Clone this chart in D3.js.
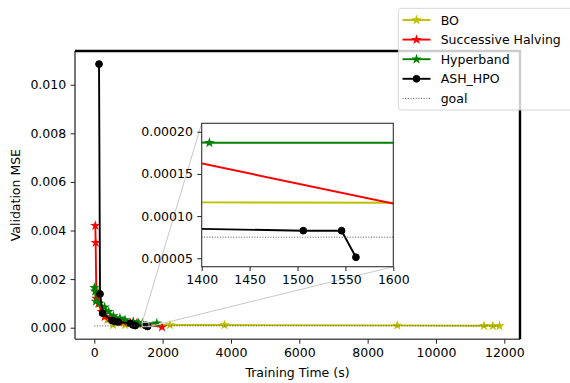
<!DOCTYPE html>
<html><head><meta charset="utf-8">
<script src="https://cdn.jsdelivr.net/npm/d3@7"></script>
<style>
html,body{margin:0;padding:0;background:#fff;}
svg{display:block;font-family:"DejaVu Sans",sans-serif;overflow:hidden;}
</style></head>
<body><svg id="c" width="570" height="383"></svg>
<script>
// ---- data ----
const seriesNames = ["BO", "Successive Halving", "Hyperband", "ASH_HPO"];
const boX  = [60, 110, 200, 380, 550, 900, 1300, 2215, 3810, 8867, 11405, 11665, 11860];
const boY  = [0.0016, 0.0013, 0.00085, 0.00032, 0.00012, 0.000118, 0.0001165, 0.0001145, 0.000110, 0.000095, 0.00008, 0.000075, 0.00007];
const shX  = [30, 40, 60, 120, 220, 300, 450, 650, 850, 1050, 1250, 1980];
const shY  = [0.0042, 0.0035, 0.0012, 0.0010, 0.00066, 0.00045, 0.00038, 0.00032, 0.00024, 0.00021, 0.000198, 0.0000246];
const hbX  = [5, 25, 45, 150, 300, 420, 560, 750, 900, 1140, 1300, 1408, 1830];
const hbY  = [0.00165, 0.00150, 0.00108, 0.00100, 0.00084, 0.00066, 0.00048, 0.00039, 0.00032, 0.00025, 0.00019, 0.000187, 0.000187];
const ashX = [138, 167, 245, 520, 600, 700, 1050, 1120, 1200, 1506, 1546, 1561];
const ashY = [0.01085, 0.00139, 0.00060, 0.00030, 0.00026, 0.00024, 0.00018, 0.00012, 0.0000889, 0.0000827, 0.0000827, 0.0000512];
const goalX = [0, 11860];
const goalValue = 0.000075;
const xTicks = [0, 2000, 4000, 6000, 8000, 10000, 12000];
const yTicks = [0, 0.002, 0.004, 0.006, 0.008, 0.010];
const insetXTicks = [1400, 1450, 1500, 1550, 1600];
const insetYTicks = [0.00005, 0.00010, 0.00015, 0.00020];
const legendLabels = ["BO", "Successive Halving", "Hyperband", "ASH_HPO", "goal"];

// ---- styles ----
const colors = ["#bfbf00", "#ff0000", "#008000", "#000000"];
const markers = ["star", "star", "star", "circle"];
const FS = 12.5;

const series = [
  {name: seriesNames[0], xs: boX, ys: boY},
  {name: seriesNames[1], xs: shX, ys: shY},
  {name: seriesNames[2], xs: hbX, ys: hbY},
  {name: seriesNames[3], xs: ashX, ys: ashY},
].map((s, i) => ({...s, color: colors[i], marker: markers[i], pts: s.xs.map((x, j) => [x, s.ys[j]])}));

const svg = d3.select("#c");

// main axes geometry
const M = {l: 75, r: 520, t: 51, b: 339.3};
const x = d3.scaleLinear().domain([-565, 12459]).range([M.l, M.r]);
const y = d3.scaleLinear().domain([-0.000477, 0.011387]).range([M.b, M.t]);

// inset geometry
const I = {l: 201.7, r: 393.3, t: 123.3, b: 266.7};
const ix = d3.scaleLinear().domain([1400, 1600]).range([I.l, I.r]);
const iy = d3.scaleLinear().domain([0.00004, 0.00021]).range([I.b, I.t]);

const starPath = d3.symbol().type(d3.symbolStar).size(14);
const circlePath = d3.symbol().type(d3.symbolCircle).size(Math.PI * 3.4 * 3.4);

function drawSeries(g, sx, sy) {
  series.forEach(s => {
    g.append("path").datum(s.pts)
      .attr("d", d3.line().x(d => sx(d[0])).y(d => sy(d[1])))
      .attr("fill", "none").attr("stroke", s.color).attr("stroke-width", 1.9)
      .attr("stroke-linejoin", "round");
    g.selectAll(null).data(s.pts).enter().append("path")
      .attr("transform", d => `translate(${sx(d[0])},${sy(d[1])})`)
      .attr("d", s.marker === "star" ? starPath : circlePath)
      .attr("fill", s.color).attr("stroke", s.color).attr("stroke-width", s.marker === "star" ? 1.2 : 1);
  });
  g.append("path").datum(goalX)
    .attr("d", d3.line().x(d => sx(d)).y(() => sy(goalValue)))
    .attr("stroke", "#555").attr("stroke-width", 1).attr("stroke-dasharray", "1,1.65").attr("fill", "none");
}

// main clip
svg.append("clipPath").attr("id", "mclip").append("rect")
  .attr("x", M.l).attr("y", M.t).attr("width", M.r - M.l).attr("height", M.b - M.t);
const main = svg.append("g").attr("clip-path", "url(#mclip)");
drawSeries(main, x, y);

// main spines
svg.append("line").attr("x1", M.l).attr("x2", M.l).attr("y1", M.t).attr("y2", M.b).attr("stroke", "#555").attr("stroke-width", 1.6);
svg.append("line").attr("x1", M.l).attr("x2", M.r).attr("y1", M.b).attr("y2", M.b).attr("stroke", "#555").attr("stroke-width", 1.6);
svg.append("line").attr("x1", M.l).attr("x2", M.r + 1.2).attr("y1", M.t).attr("y2", M.t).attr("stroke", "#000").attr("stroke-width", 2.4);
svg.append("line").attr("x1", M.r).attr("x2", M.r).attr("y1", M.t).attr("y2", M.b).attr("stroke", "#000").attr("stroke-width", 2.4);

// main axes ticks
const xAxis = d3.axisBottom(x).tickValues(xTicks).tickFormat(d3.format("d")).tickSize(4.4).tickPadding(4.4);
const gx = svg.append("g").attr("transform", `translate(0,${M.b})`).call(xAxis);
const yAxis = d3.axisLeft(y).tickValues(yTicks).tickFormat(d3.format(".3f")).tickSize(4.4).tickPadding(4.4);
const gy = svg.append("g").attr("transform", `translate(${M.l},0)`).call(yAxis);
[gx, gy].forEach(g => {
  g.select(".domain").remove();
  g.selectAll(".tick line").attr("stroke", "#222").attr("stroke-width", 1);
  g.selectAll(".tick text").attr("font-size", FS).attr("fill", "#000").attr("font-family", "DejaVu Sans");
});

svg.append("text").attr("x", (M.l + M.r) / 2).attr("y", 377).attr("text-anchor", "middle")
  .attr("font-size", FS).text("Training Time (s)");
svg.append("text").attr("transform", `translate(19.5,${(M.t + M.b) / 2}) rotate(-90)`)
  .attr("text-anchor", "middle").attr("font-size", FS).text("Validation MSE");

// mark_inset rectangle and connectors
const rx0 = x(1400), rx1 = x(1600), ry0 = y(0.00021), ry1 = y(0.00004);
svg.append("rect").attr("x", rx0).attr("y", ry0).attr("width", rx1 - rx0).attr("height", ry1 - ry0)
  .attr("fill", "none").attr("stroke", "#c8c8c8").attr("stroke-width", 1);
svg.append("line").attr("x1", I.l).attr("y1", I.t).attr("x2", rx0).attr("y2", ry0).attr("stroke", "#c8c8c8").attr("stroke-width", 1);
svg.append("line").attr("x1", I.r).attr("y1", I.b).attr("x2", rx1).attr("y2", ry1).attr("stroke", "#c8c8c8").attr("stroke-width", 1);

// inset
svg.append("rect").attr("x", I.l).attr("y", I.t).attr("width", I.r - I.l).attr("height", I.b - I.t).attr("fill", "#fff");
svg.append("clipPath").attr("id", "iclip").append("rect")
  .attr("x", I.l).attr("y", I.t).attr("width", I.r - I.l).attr("height", I.b - I.t);
const ing = svg.append("g").attr("clip-path", "url(#iclip)");
drawSeries(ing, ix, iy);
svg.append("rect").attr("x", I.l).attr("y", I.t).attr("width", I.r - I.l).attr("height", I.b - I.t)
  .attr("fill", "none").attr("stroke", "#333").attr("stroke-width", 1.1);

const ixAxis = d3.axisBottom(ix).tickValues(insetXTicks).tickFormat(d3.format("d")).tickSize(4.4).tickPadding(4.4);
const igx = svg.append("g").attr("transform", `translate(0,${I.b})`).call(ixAxis);
const iyAxis = d3.axisLeft(iy).tickValues(insetYTicks).tickFormat(d3.format(".5f")).tickSize(4.4).tickPadding(4.4);
const igy = svg.append("g").attr("transform", `translate(${I.l},0)`).call(iyAxis);
[igx, igy].forEach(g => {
  g.select(".domain").remove();
  g.selectAll(".tick line").attr("stroke", "#222").attr("stroke-width", 1);
  g.selectAll(".tick text").attr("font-size", FS).attr("fill", "#000").attr("font-family", "DejaVu Sans");
});

// legend
const L = {x: 398.3, y: 8.3, w: 190, h: 101.7};
svg.append("rect").attr("x", L.x).attr("y", L.y).attr("width", L.w).attr("height", L.h).attr("rx", 3)
  .attr("fill", "#fff").attr("fill-opacity", 0.8).attr("stroke", "#ccc").attr("stroke-opacity", 0.8).attr("stroke-width", 1);
const rowY = d => 20 + d * 19.6;
legendLabels.forEach((lab, i) => {
  const cy = rowY(i);
  const g = svg.append("g");
  if (i < 4) {
    g.append("line").attr("x1", 402.5).attr("x2", 430.5).attr("y1", cy).attr("y2", cy)
      .attr("stroke", colors[i]).attr("stroke-width", 1.9);
    g.append("path").attr("transform", `translate(416.5,${cy})`)
      .attr("d", markers[i] === "star" ? starPath : circlePath)
      .attr("fill", colors[i]).attr("stroke", colors[i]).attr("stroke-width", markers[i] === "star" ? 1.2 : 1);
  } else {
    g.append("line").attr("x1", 402.5).attr("x2", 430.5).attr("y1", cy).attr("y2", cy)
      .attr("stroke", "#555").attr("stroke-width", 1).attr("stroke-dasharray", "1,1.65");
  }
  g.append("text").attr("x", 440.7).attr("y", cy + 4.6).attr("font-size", FS).text(lab);
});
</script></body></html>
